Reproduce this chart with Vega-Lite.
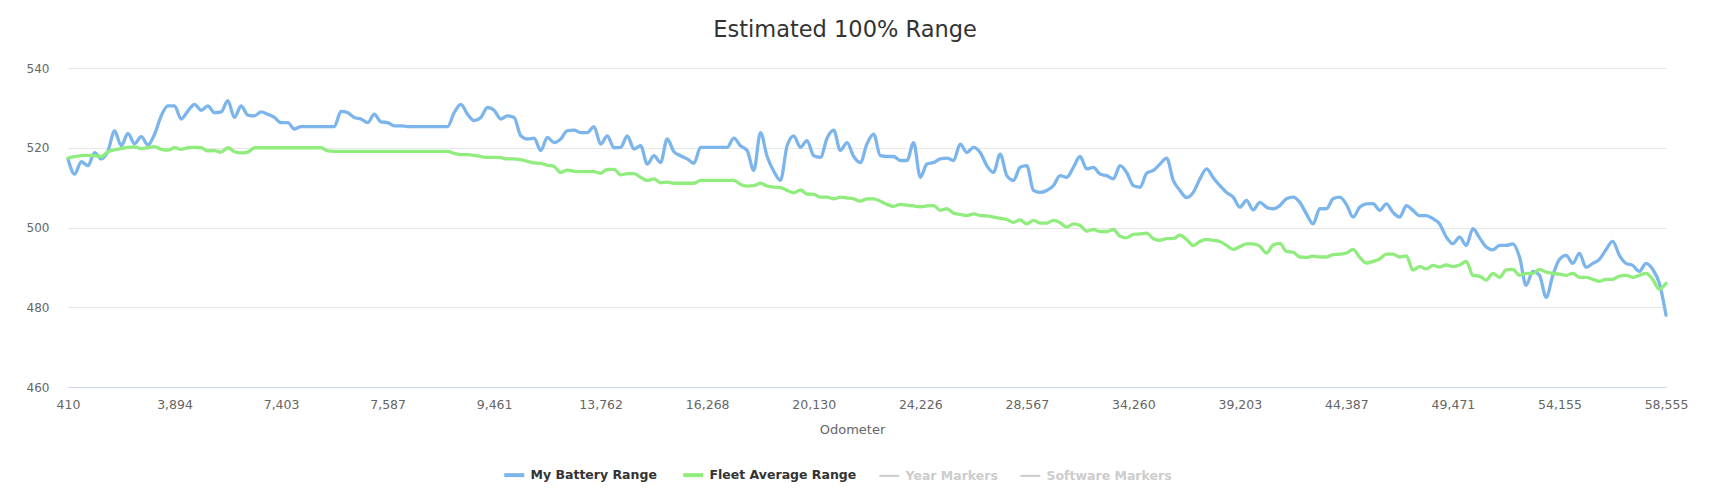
{
  "$schema": "https://vega.github.io/schema/vega-lite/v6.json",
  "width": 1598,
  "height": 319,
  "autosize": {"type": "none"},
  "padding": {"left": 68, "top": 68, "right": 50, "bottom": 105},
  "background": "#ffffff",
  "title": {
    "text": "Estimated 100% Range",
    "fontSize": 22.5,
    "fontWeight": "normal",
    "color": "#333333",
    "anchor": "middle",
    "dx": -22,
    "offset": 21
  },
  "data": {
    "values": [
      {"i": 0, "b": 517.2, "f": 517.4}, {"i": 1, "b": 513.4, "f": 517.8}, {"i": 2, "b": 516.5, "f": 518},
      {"i": 3, "b": 515.5, "f": 518.1}, {"i": 4, "b": 518.8, "f": 518}, {"i": 5, "b": 517.2, "f": 517.8},
      {"i": 6, "b": 519.2, "f": 519}, {"i": 7, "b": 524.2, "f": 519.5}, {"i": 8, "b": 520.5, "f": 519.8},
      {"i": 9, "b": 523.6, "f": 520.1}, {"i": 10, "b": 521, "f": 520.2}, {"i": 11, "b": 522.8, "f": 519.8},
      {"i": 12, "b": 520.7, "f": 520}, {"i": 13, "b": 523.4, "f": 520.3}, {"i": 14, "b": 528, "f": 519.6},
      {"i": 15, "b": 530.5, "f": 519.4}, {"i": 16, "b": 530.5, "f": 520}, {"i": 17, "b": 527.2, "f": 519.6},
      {"i": 18, "b": 529.2, "f": 520}, {"i": 19, "b": 530.9, "f": 520.1}, {"i": 20, "b": 529.4, "f": 520},
      {"i": 21, "b": 530.5, "f": 519.2}, {"i": 22, "b": 528.8, "f": 519.3}, {"i": 23, "b": 529, "f": 518.9},
      {"i": 24, "b": 531.8, "f": 520}, {"i": 25, "b": 527.6, "f": 519}, {"i": 26, "b": 530.5, "f": 518.7},
      {"i": 27, "b": 528.2, "f": 518.9}, {"i": 28, "b": 528, "f": 520}, {"i": 29, "b": 529, "f": 520},
      {"i": 30, "b": 528.4, "f": 520}, {"i": 31, "b": 527.6, "f": 520}, {"i": 32, "b": 526.3, "f": 520},
      {"i": 33, "b": 526.3, "f": 520}, {"i": 34, "b": 524.7, "f": 520}, {"i": 35, "b": 525.3, "f": 520},
      {"i": 36, "b": 525.3, "f": 520}, {"i": 37, "b": 525.3, "f": 520}, {"i": 38, "b": 525.3, "f": 520},
      {"i": 39, "b": 525.3, "f": 519.2}, {"i": 40, "b": 525.3, "f": 519.1}, {"i": 41, "b": 529.1, "f": 519.1},
      {"i": 42, "b": 528.8, "f": 519.1}, {"i": 43, "b": 527.6, "f": 519.1}, {"i": 44, "b": 527.2, "f": 519.1},
      {"i": 45, "b": 526.3, "f": 519.1}, {"i": 46, "b": 528.4, "f": 519.1}, {"i": 47, "b": 526.5, "f": 519.1},
      {"i": 48, "b": 526.3, "f": 519.1}, {"i": 49, "b": 525.5, "f": 519.1}, {"i": 50, "b": 525.5, "f": 519.1},
      {"i": 51, "b": 525.3, "f": 519.1}, {"i": 52, "b": 525.3, "f": 519.1}, {"i": 53, "b": 525.3, "f": 519.1},
      {"i": 54, "b": 525.3, "f": 519.1}, {"i": 55, "b": 525.3, "f": 519.1}, {"i": 56, "b": 525.3, "f": 519.1},
      {"i": 57, "b": 525.3, "f": 519.1}, {"i": 58, "b": 528.8, "f": 518.6}, {"i": 59, "b": 530.9, "f": 518.3},
      {"i": 60, "b": 528.4, "f": 518.3}, {"i": 61, "b": 526.8, "f": 518.1}, {"i": 62, "b": 527.6, "f": 517.8},
      {"i": 63, "b": 530.1, "f": 517.6}, {"i": 64, "b": 529.4, "f": 517.6}, {"i": 65, "b": 527.2, "f": 517.5},
      {"i": 66, "b": 528, "f": 517.2}, {"i": 67, "b": 527.6, "f": 517.2}, {"i": 68, "b": 523, "f": 517},
      {"i": 69, "b": 522.2, "f": 516.6}, {"i": 70, "b": 522.4, "f": 516.2}, {"i": 71, "b": 519.3, "f": 516.1},
      {"i": 72, "b": 522.6, "f": 515.6}, {"i": 73, "b": 521.3, "f": 515.3}, {"i": 74, "b": 522.2, "f": 513.8},
      {"i": 75, "b": 524.3, "f": 514.4}, {"i": 76, "b": 524.4, "f": 514.1}, {"i": 77, "b": 523.8, "f": 514},
      {"i": 78, "b": 523.8, "f": 514}, {"i": 79, "b": 525.3, "f": 514}, {"i": 80, "b": 520.9, "f": 513.6},
      {"i": 81, "b": 523, "f": 514.6}, {"i": 82, "b": 520, "f": 514.6}, {"i": 83, "b": 520.1, "f": 513.2},
      {"i": 84, "b": 523, "f": 513.5}, {"i": 85, "b": 519.7, "f": 513.5}, {"i": 86, "b": 520.5, "f": 512.6},
      {"i": 87, "b": 515.9, "f": 511.8}, {"i": 88, "b": 518, "f": 512.2}, {"i": 89, "b": 516.3, "f": 511.2},
      {"i": 90, "b": 522.2, "f": 511.4}, {"i": 91, "b": 519, "f": 511.1}, {"i": 92, "b": 518, "f": 511.1},
      {"i": 93, "b": 517.2, "f": 511.1}, {"i": 94, "b": 516.1, "f": 511.1}, {"i": 95, "b": 520.1, "f": 511.8},
      {"i": 96, "b": 520.1, "f": 511.8}, {"i": 97, "b": 520.1, "f": 511.8}, {"i": 98, "b": 520.1, "f": 511.8},
      {"i": 99, "b": 520.1, "f": 511.8}, {"i": 100, "b": 522.4, "f": 511.8}, {"i": 101, "b": 520.5, "f": 510.8},
      {"i": 102, "b": 519.3, "f": 510.4}, {"i": 103, "b": 514.3, "f": 510.5}, {"i": 104, "b": 523.8, "f": 511.1},
      {"i": 105, "b": 517.8, "f": 510.4}, {"i": 106, "b": 514.1, "f": 510.1}, {"i": 107, "b": 511.8, "f": 510},
      {"i": 108, "b": 520.5, "f": 509.3}, {"i": 109, "b": 523, "f": 508.7}, {"i": 110, "b": 520.1, "f": 509.4},
      {"i": 111, "b": 521.8, "f": 508.4}, {"i": 112, "b": 518, "f": 508.3}, {"i": 113, "b": 517.6, "f": 507.6},
      {"i": 114, "b": 522.4, "f": 507.6}, {"i": 115, "b": 524.4, "f": 507.2}, {"i": 116, "b": 519.3, "f": 507.6},
      {"i": 117, "b": 521.3, "f": 507.4}, {"i": 118, "b": 517.8, "f": 507.2}, {"i": 119, "b": 516.3, "f": 506.6},
      {"i": 120, "b": 521, "f": 507.2}, {"i": 121, "b": 523.4, "f": 507.2}, {"i": 122, "b": 518, "f": 506.6},
      {"i": 123, "b": 517.8, "f": 505.8}, {"i": 124, "b": 517.8, "f": 505.3}, {"i": 125, "b": 516.8, "f": 505.8},
      {"i": 126, "b": 516.8, "f": 505.6}, {"i": 127, "b": 521.3, "f": 505.4}, {"i": 128, "b": 512.6, "f": 505.2},
      {"i": 129, "b": 515.9, "f": 505.4}, {"i": 130, "b": 516.3, "f": 505.5}, {"i": 131, "b": 517.2, "f": 504.3},
      {"i": 132, "b": 517.4, "f": 504.7}, {"i": 133, "b": 516.8, "f": 503.6}, {"i": 134, "b": 520.9, "f": 503.3},
      {"i": 135, "b": 518.8, "f": 503}, {"i": 136, "b": 520.1, "f": 503.4}, {"i": 137, "b": 518.8, "f": 503},
      {"i": 138, "b": 515.5, "f": 502.9}, {"i": 139, "b": 513.8, "f": 502.6}, {"i": 140, "b": 518.4, "f": 502.3},
      {"i": 141, "b": 513, "f": 502}, {"i": 142, "b": 511.8, "f": 501.3}, {"i": 143, "b": 515.1, "f": 501.9},
      {"i": 144, "b": 515.5, "f": 500.9}, {"i": 145, "b": 509.3, "f": 501.8}, {"i": 146, "b": 508.8, "f": 501.1},
      {"i": 147, "b": 509.3, "f": 501.1}, {"i": 148, "b": 510.5, "f": 501.8}, {"i": 149, "b": 513, "f": 501.2},
      {"i": 150, "b": 512.6, "f": 500.1}, {"i": 151, "b": 515.1, "f": 500.9}, {"i": 152, "b": 517.8, "f": 500.5},
      {"i": 153, "b": 514.7, "f": 499.1}, {"i": 154, "b": 515.1, "f": 499.5}, {"i": 155, "b": 513.4, "f": 499},
      {"i": 156, "b": 513, "f": 499}, {"i": 157, "b": 512.2, "f": 499.5}, {"i": 158, "b": 515.5, "f": 497.8},
      {"i": 159, "b": 513.8, "f": 497.4}, {"i": 160, "b": 510.5, "f": 498.3}, {"i": 161, "b": 510.1, "f": 498.4},
      {"i": 162, "b": 513.6, "f": 498.6}, {"i": 163, "b": 514.3, "f": 497.2}, {"i": 164, "b": 515.9, "f": 496.8},
      {"i": 165, "b": 517.4, "f": 497.2}, {"i": 166, "b": 511.8, "f": 497.2}, {"i": 167, "b": 509.3, "f": 498.1},
      {"i": 168, "b": 507.5, "f": 497}, {"i": 169, "b": 508.8, "f": 495.5}, {"i": 170, "b": 512.2, "f": 496.5},
      {"i": 171, "b": 514.7, "f": 497}, {"i": 172, "b": 512.5, "f": 496.8}, {"i": 173, "b": 510.5, "f": 496.5},
      {"i": 174, "b": 508.8, "f": 495.5}, {"i": 175, "b": 507.6, "f": 494.5}, {"i": 176, "b": 505.1, "f": 495.2},
      {"i": 177, "b": 506.8, "f": 495.9}, {"i": 178, "b": 504.4, "f": 495.9}, {"i": 179, "b": 506.3, "f": 495.3},
      {"i": 180, "b": 505.1, "f": 493.6}, {"i": 181, "b": 504.7, "f": 495.6}, {"i": 182, "b": 505.5, "f": 496},
      {"i": 183, "b": 507.2, "f": 494}, {"i": 184, "b": 507.6, "f": 493.8}, {"i": 185, "b": 506.3, "f": 492.6},
      {"i": 186, "b": 503.4, "f": 492.5}, {"i": 187, "b": 500.9, "f": 492.8}, {"i": 188, "b": 504.7, "f": 492.6},
      {"i": 189, "b": 504.7, "f": 492.6}, {"i": 190, "b": 507.2, "f": 493.2}, {"i": 191, "b": 507.6, "f": 493.3},
      {"i": 192, "b": 505.8, "f": 493.6}, {"i": 193, "b": 502.6, "f": 494.5}, {"i": 194, "b": 505.1, "f": 492.5},
      {"i": 195, "b": 505.9, "f": 491.1}, {"i": 196, "b": 506, "f": 491.5}, {"i": 197, "b": 504.3, "f": 492.1},
      {"i": 198, "b": 505.9, "f": 493.3}, {"i": 199, "b": 503.8, "f": 493.3}, {"i": 200, "b": 502.6, "f": 492.6},
      {"i": 201, "b": 505.5, "f": 492.9}, {"i": 202, "b": 504.3, "f": 489.3}, {"i": 203, "b": 503, "f": 490.2},
      {"i": 204, "b": 503, "f": 489.6}, {"i": 205, "b": 502.2, "f": 490.5}, {"i": 206, "b": 500.9, "f": 490.1},
      {"i": 207, "b": 497.6, "f": 490.6}, {"i": 208, "b": 495.9, "f": 490.2}, {"i": 209, "b": 497.6, "f": 490.6},
      {"i": 210, "b": 495.5, "f": 491.5}, {"i": 211, "b": 499.7, "f": 488}, {"i": 212, "b": 497.4, "f": 487.8},
      {"i": 213, "b": 495.1, "f": 486.8}, {"i": 214, "b": 494.4, "f": 488.5}, {"i": 215, "b": 495.5, "f": 487.5},
      {"i": 216, "b": 495.5, "f": 489.4}, {"i": 217, "b": 495.9, "f": 489.5}, {"i": 218, "b": 492.6, "f": 488},
      {"i": 219, "b": 485.5, "f": 488.5}, {"i": 220, "b": 489, "f": 488.5}, {"i": 221, "b": 488, "f": 489.5},
      {"i": 222, "b": 482.5, "f": 488.8}, {"i": 223, "b": 488, "f": 488.5}, {"i": 224, "b": 492, "f": 488.3},
      {"i": 225, "b": 493, "f": 488}, {"i": 226, "b": 491, "f": 488.5}, {"i": 227, "b": 493.5, "f": 487.5},
      {"i": 228, "b": 490, "f": 487.5}, {"i": 229, "b": 491, "f": 487}, {"i": 230, "b": 492, "f": 486.5},
      {"i": 231, "b": 494.5, "f": 487}, {"i": 232, "b": 496.5, "f": 487}, {"i": 233, "b": 493, "f": 487.8},
      {"i": 234, "b": 491, "f": 488}, {"i": 235, "b": 490.5, "f": 487.5}, {"i": 236, "b": 489, "f": 488},
      {"i": 237, "b": 491, "f": 488.5}, {"i": 238, "b": 489.5, "f": 487}, {"i": 239, "b": 486, "f": 484.5},
      {"i": 240, "b": 478, "f": 486}
    ]
  },
  "encoding": {
    "x": {
      "field": "i",
      "type": "quantitative",
      "scale": {"domain": [0, 240], "nice": false, "zero": false},
      "axis": {
        "values": [0, 16, 32, 48, 64, 80, 96, 112, 128, 144, 160, 176, 192, 208, 224, 240],
        "labelExpr": "['410','3,894','7,403','7,587','9,461','13,762','16,268','20,130','24,226','28,567','34,260','39,203','44,387','49,471','54,155','58,555'][round(datum.value / 16)]",
        "grid": false,
        "ticks": false,
        "domainColor": "#ccd6eb",
        "labelColor": "#666666",
        "labelFontSize": 12.5,
        "labelPadding": 11,
        "labelFlush": false,
        "labelOverlap": false,
        "title": "Odometer",
        "titleColor": "#666666",
        "titleFontSize": 13,
        "titleFontWeight": "normal",
        "titlePadding": 13,
        "titleX": 784
      }
    }
  },
  "layer": [
    {
      "mark": {"type": "line", "strokeWidth": 3.3, "interpolate": "monotone", "strokeJoin": "round", "strokeCap": "round"},
      "encoding": {
        "y": {
          "field": "b",
          "type": "quantitative",
          "scale": {"domain": [460, 540], "nice": false, "zero": false},
          "axis": {
            "values": [460, 480, 500, 520, 540],
            "grid": true,
            "gridColor": "#e6e6e6",
            "domain": false,
            "ticks": false,
            "labelColor": "#666666",
            "labelFontSize": 12,
            "labelPadding": 19,
            "title": null
          }
        },
        "color": {
          "datum": "My Battery Range",
          "scale": {
            "domain": ["My Battery Range", "Fleet Average Range", "Year Markers", "Software Markers"],
            "range": ["#7cb5ec", "#90ed7d", "#cccccc", "#cccccc"]
          },
          "legend": {
            "title": null,
            "orient": "none",
            "direction": "horizontal",
            "legendX": 440,
            "legendY": 400.5,
            "padding": 0,
            "symbolType": "stroke",
            "symbolSize": 400,
            "symbolStrokeWidth": 4,
            "labelOffset": 10,
            "columnPadding": 18,
            "labelFontSize": 12.5,
            "labelFontWeight": "bold",
            "labelColor": "#333333",
            "encode": {
              "labels": {"update": {"fill": {"signal": "indexof(['Year Markers', 'Software Markers'], datum.label) >= 0 ? '#cccccc' : '#333333'"}}},
              "symbols": {"update": {"strokeWidth": {"signal": "indexof(['Year Markers', 'Software Markers'], datum.label) >= 0 ? 2 : 4"}}}
            }
          }
        }
      }
    },
    {
      "mark": {"type": "line", "strokeWidth": 3.3, "interpolate": "monotone", "strokeJoin": "round", "strokeCap": "round"},
      "encoding": {
        "y": {"field": "f", "type": "quantitative"},
        "color": {"datum": "Fleet Average Range"}
      }
    }
  ],
  "config": {
    "font": "DejaVu Sans",
    "view": {"stroke": null}
  }
}
